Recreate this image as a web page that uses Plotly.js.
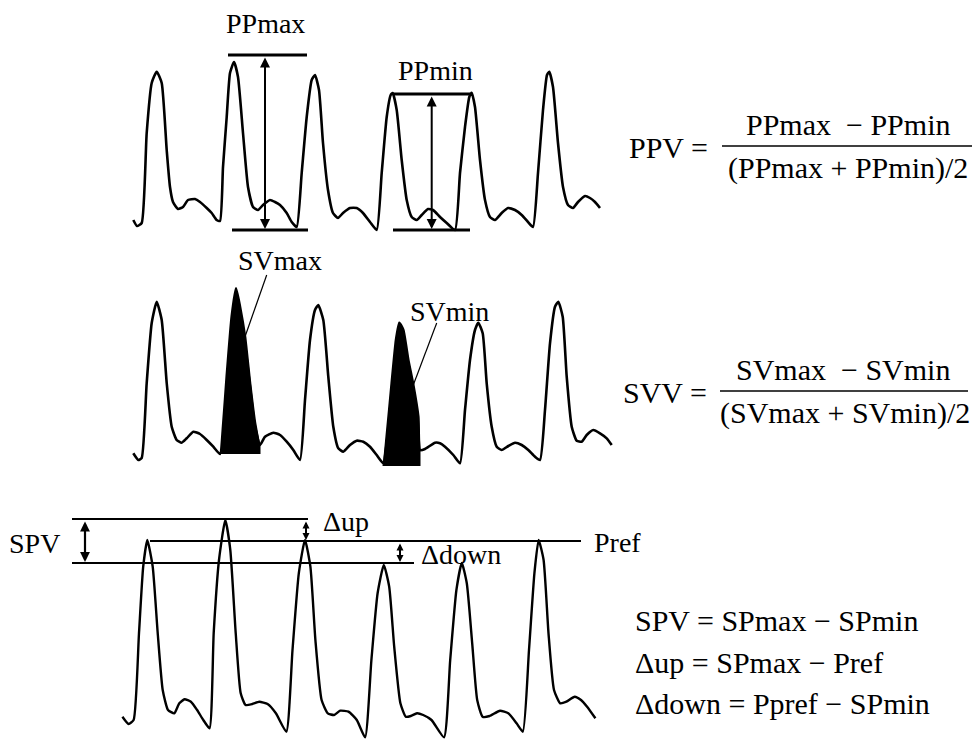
<!DOCTYPE html>
<html><head><meta charset="utf-8">
<script src="https://cdn.plot.ly/plotly-3.0.1.min.js"></script>
<style>html,body{margin:0;padding:0;background:#fff}#c{width:974px;height:739px}</style>
</head><body><div id="c"></div>
<script>
// Waveform 1 (pulse pressure)
const w1x = [133.3,137,141.7,146.7,151.7,156.7,161.7,166.7,170,173,178,183,188,195,200,206.7,211.7,216.7,220,223,226.7,230,234,238,243,248,253,258,263,270,275,280,286.7,291.7,296.7,301.7,306.7,311.7,315,319,323,328,333,338,343,350,356.7,363,370,376.7,381.7,386.7,390.7,392.7,396.7,401.7,406.7,411.7,416.7,421.7,428,433,440,446.7,455,460,465,469.3,471.7,475,480,485,490,495,501.7,508,515,521.7,528,533,538,543,547,549.3,553,558,563,568,573,578,585,590,595,600];
const w1y = [220,226,223,133,83,71.7,83,150,187,202,209,207,200,199,202,208,213,220,221,167,117,73,62,77,133,187,207,210,205,200,202,205,213,222,227,173,117,80,75,90,143,190,213,218,213,208,208,213,222,230,173,117,95,93,110,160,200,217,220,215,209,210,217,223,230,173,127,97,92.7,107,160,200,217,220,213,208,210,215,222,227,173,110,75,71.7,87,143,187,205,208,202,196,198,202,208];
// Waveform 2 (stroke volume)
const w2x = [133.3,138.3,141.7,146.7,151.7,156.7,161.7,166.7,171.7,176.7,181.7,186.7,193.3,200,206.7,213.3,220,223.3,226.7,231.7,236,240,245,250,255,260,265,273.3,280,286.7,293.3,300,305,310,315,318.3,323.3,328.3,333.3,338.3,343.3,350,356.7,363.3,370,376.7,383.3,386.7,391.7,396,399.3,403.3,408.3,413.3,418.3,420,425,435,440,445,453.3,460,465,470,475,478.3,482.7,486.7,491.7,496.7,501.7,508.3,515,521.7,528.3,535,540,545,550,555,558.3,562.7,566.7,571.7,576.7,581.7,586.7,593.3,600,606.7,611.7];
const w2y = [453.3,460,458,383,323,301.7,320,383,426.7,440,442.7,438.3,431.7,434,440,446.7,454,423,376.7,316.7,288.3,306.7,336.7,383,423,445,436.7,432.7,435,441.7,450,460,400,340,310,305,320,376.7,426.7,448.3,451.7,445,440.7,441.7,446.7,455,463.3,436.7,383,340,322.7,330,360,385,416.7,450,449,442.7,443.3,446.7,455,463.3,410,360,330,322.7,333.3,383.3,426.7,446.7,450,446,442.7,445,450,456.7,460,410,343.3,306.7,301.7,316.7,376.7,426.7,440.7,441.7,435,430,433.3,438.3,445];
// Filled stroke-volume areas
const svMaxX = [221,223.3,226.7,231.7,236,240,245,250,255,260,260];
const svMaxY = [454,423,376.7,316.7,288.3,306.7,336.7,383,423,445,454];
const svMinX = [383,386.7,391.7,396,399.3,403.3,408.3,413.3,418.3,420,420];
const svMinY = [466,436.7,383,340,322.7,330,360,385,416.7,450,466];
// Waveform 3 (systolic pressure)
const w3x = [122.4,128.6,133.6,139,143.2,147.3,152.7,157.7,162.7,168,174.3,179.3,184.6,190.9,197.1,203.3,209.5,213.7,219,225.3,230.3,235.7,240.7,245.6,252.3,259.3,267.6,275.9,286.3,292.5,298.8,305,310.4,315.4,321.6,327.8,334,340.2,348.5,356.8,365.1,371.4,377.6,383.8,389.2,394.2,400.4,405.8,410.8,417,423.2,431.5,444,450.2,456.4,461.8,466.8,472.2,477.2,482.6,489.6,500,508.3,516.6,522.8,529,534.4,538.6,543.6,548.5,554,560.2,566.4,574.7,581,587.1,595.4];
const w3y = [716.7,724,720,633,566.7,540,566.7,633,690,710,713.3,703.3,699.3,701.7,710,720,728.3,633,560,520,550,633,693.3,705,704,701.7,704,713.3,731.7,650,573.3,540,566.7,640,700,713.3,715,710.7,711.7,720,737.3,660,593.3,565,586.7,646.7,703.3,716.7,716,713.3,715,720,737.3,660,590,563,583.3,643.3,700,716.7,716,710.7,713.3,723.3,731.7,650,573.3,540,560,633.3,690,703.3,701.7,696.7,700,706.7,718.3];
// Reference levels
const ppMaxTop = {x:[228,307], y:55};
const ppMaxBot = {x:[232,308], y:230};
const ppMinTop = {x:[393,470], y:94};
const ppMinBot = {x:[393,470], y:230};
const spMaxLine = {x:[72,308], y:519};
const prefLine = {x:[150,581], y:541};
const spMinLine = {x:[72,414], y:563};

const traces = [];
function line(xs, ys, w, extra){ traces.push(Object.assign({type:'scatter',mode:'lines',x:xs,y:ys,line:{color:'#000',width:w},hoverinfo:'skip',showlegend:false}, extra||{})); }
function hline(o, w){ line(o.x, [o.y,o.y], w); }

traces.push({type:'scatter',mode:'lines',x:svMaxX,y:svMaxY,fill:'toself',fillcolor:'#000',line:{color:'#000',width:1},hoverinfo:'skip',showlegend:false});
traces.push({type:'scatter',mode:'lines',x:svMinX,y:svMinY,fill:'toself',fillcolor:'#000',line:{color:'#000',width:1},hoverinfo:'skip',showlegend:false});
line(w1x,w1y,2.6,{line:{color:'#000',width:2.6,shape:'spline',smoothing:0.5}});
line(w2x,w2y,2.6,{line:{color:'#000',width:2.6,shape:'spline',smoothing:0.5}});
line(w3x,w3y,2.4,{line:{color:'#000',width:2.4,shape:'spline',smoothing:0.5}});
hline(ppMaxTop,3); hline(ppMaxBot,3); hline(ppMinTop,3); hline(ppMinBot,3);
hline(spMaxLine,2); hline(prefLine,2); hline(spMinLine,2);
// SV pointer lines
line([266.7,245],[275,336.7],1.2);
line([436.7,413.3],[323,385],1.2);
// fraction bars
line([722,972],[146,146],1.6);
line([720,968],[391,391],1.6);

const F = 'Liberation Serif, Times New Roman, serif';
const ann = [];
function txt(x,y,t,size,xa){ ann.push({x:x,y:y,xref:'x',yref:'y',text:t,showarrow:false,xanchor:xa||'center',yanchor:'middle',font:{family:F,size:size,color:'#000'}}); }
function arr(x,y0,y1,w,sz){ ann.push({x:x,y:y1,ax:x,ay:y0,xref:'x',yref:'y',axref:'x',ayref:'y',text:'',showarrow:true,arrowhead:2,startarrowhead:2,arrowside:'end+start',arrowsize:sz||1,startarrowsize:sz||1,arrowwidth:w,arrowcolor:'#000',standoff:0,startstandoff:0}); }

arr(265,56,229,2,1);
arr(431.7,95,229,2,1);
arr(85,520,562,2.2,0.9);
arr(306,520,540,2,0.7);
arr(400,542,562,2,0.7);

txt(265,23,'PPmax',28);
txt(435,70,'PPmin',28);
txt(280,260,'SVmax',28);
txt(449,311,'SVmin',28);
txt(34,543,'SPV',28);
txt(346,521,'Δup',28);
txt(461,554,'Δdown',28);
txt(617,542,'Pref',28);

txt(668,147,'PPV =',30);
txt(848,124,'PPmax  − PPmin',30);
txt(848,168,'(PPmax + PPmin)/2',30);
txt(665,392,'SVV =',30);
txt(843,369,'SVmax  − SVmin',30);
txt(845,413,'(SVmax + SVmin)/2',30);
txt(633,620,'SPV = SPmax − SPmin',30,'left');
txt(633,662,'Δup = SPmax − Pref',30,'left');
txt(633,703,'Δdown = Ppref − SPmin',30,'left');

const layout = {width:974,height:739,margin:{l:0,r:0,t:0,b:0},paper_bgcolor:'#fff',plot_bgcolor:'#fff',
  xaxis:{range:[0,974],visible:false,fixedrange:true},
  yaxis:{range:[739,0],visible:false,fixedrange:true},
  annotations:ann, showlegend:false};
Plotly.newPlot('c',traces,layout,{staticPlot:true,displayModeBar:false});
</script></body></html>
